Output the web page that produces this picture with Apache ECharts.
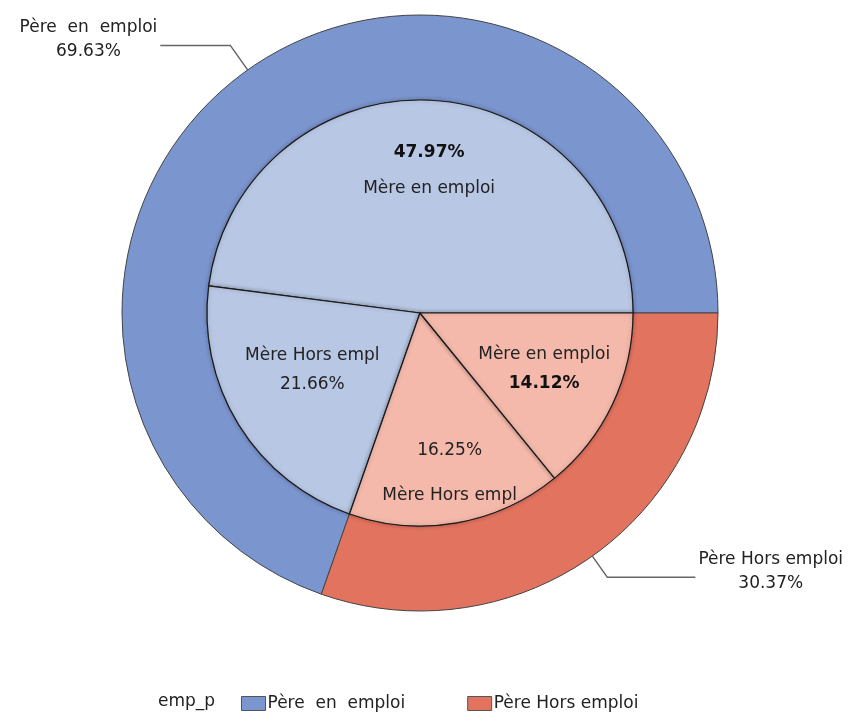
<!DOCTYPE html>
<html>
<head>
<meta charset="utf-8">
<script src="https://cdn.jsdelivr.net/npm/echarts@6/dist/echarts.min.js"></script>
<style>
html,body{margin:0;padding:0;background:#fff;}
#chart{width:854px;height:725px;}
</style>
</head>
<body>
<div id="chart"></div>
<script>
// ---- data ----
var legendTitle = 'emp_p';
var outerNames = ['Père  en  emploi', 'Père Hors emploi'];
var outerValues = [69.63, 30.37];
var innerNames = ['Mère en emploi', 'Mère Hors empl', 'Mère Hors empl', 'Mère en emploi'];
var innerValues = [47.97, 21.66, 16.25, 14.12];

// ---- styles ----
var outerColors = ['#7b95cf', '#e2735f'];
var innerColors = ['#b8c7e4', '#b8c7e4', '#f4b9ab', '#f4b9ab'];
var FONT = 'DejaVu Sans';
var FS = 17;
var innerLabelTpl = [
  function (n, p) { return '{b|' + p + '}\n{n|' + n + '}'; },
  function (n, p) { return '{n|' + n + '}\n{n|' + p + '}'; },
  function (n, p) { return '{n|' + p + '}\n{g|}\n{n|' + n + '}'; },
  function (n, p) { return '{n|' + n + '}\n{b|' + p + '}'; }
];
var innerLabelStyle = [
  { lineHeight: 36, padding: [0, 0, 0, 0] },
  { lineHeight: 29, padding: [0, 0, 36, 28] },
  { lineHeight: 22, padding: [38, 0, 0, 10] },
  { lineHeight: 29, padding: [0, 10, 10, 0] }
];
var outerLabelLines = [
  { length: 30, length2: 70 },
  { length: 26, length2: 88 }
];

function pct(v) { return v.toFixed(2) + '%'; }

var center = [420, 313];

var outerData = outerNames.map(function (n, i) {
  return {
    name: n,
    value: outerValues[i],
    itemStyle: { color: outerColors[i] },
    labelLine: outerLabelLines[i]
  };
});
var innerData = innerNames.map(function (n, i) {
  return { name: n, value: innerValues[i], itemStyle: { color: innerColors[i] } };
});
var labelData = innerNames.map(function (n, i) {
  var st = innerLabelStyle[i];
  return {
    name: n,
    value: innerValues[i],
    label: {
      formatter: innerLabelTpl[i](n, pct(innerValues[i])),
      padding: st.padding,
      rich: {
        n: { fontFamily: FONT, fontSize: FS, color: '#222', align: 'center', lineHeight: st.lineHeight },
        b: { fontFamily: FONT, fontSize: FS, fontWeight: 'bold', color: '#111', align: 'center', lineHeight: st.lineHeight },
        g: { fontSize: 10, lineHeight: 23 }
      }
    }
  };
});

var chart = echarts.init(document.getElementById('chart'), null, { renderer: 'canvas' });
chart.setOption({
  animation: false,
  backgroundColor: '#ffffff',
  title: {
    text: legendTitle,
    left: 153,
    top: 688,
    textStyle: { fontFamily: FONT, fontSize: FS, fontWeight: 'normal', color: '#222' }
  },
  legend: {
    data: outerNames,
    left: 236,
    top: 690,
    itemWidth: 24,
    itemHeight: 14,
    itemGap: 62,
    icon: 'rect',
    itemStyle: { borderColor: '#555', borderWidth: 1 },
    textStyle: { fontFamily: FONT, fontSize: FS, color: '#222', padding: [0, 0, 0, -3] }
  },
  series: [
    {
      type: 'pie',
      name: 'outer',
      center: center,
      radius: [213, 298],
      startAngle: 0,
      clockwise: false,
      avoidLabelOverlap: false,
      itemStyle: { borderColor: '#444', borderWidth: 1 },
      label: {
        show: true,
        position: 'outside',
        formatter: function (p) { return '{n|' + p.name + '}\n{n|' + pct(p.value) + '}'; },
        rich: {
          n: { fontFamily: FONT, fontSize: FS, color: '#222', align: 'center', lineHeight: 24 }
        },
        padding: [0, 0, 12, 0],
        distanceToLabelLine: 3
      },
      labelLine: { show: true, lineStyle: { color: '#666', width: 1.5 } },
      emphasis: { disabled: true },
      data: outerData
    },
    {
      type: 'pie',
      name: 'inner',
      center: center,
      radius: [0, 213],
      startAngle: 0,
      clockwise: false,
      itemStyle: { borderColor: '#1a1a1a', borderWidth: 1.2,
        shadowColor: 'rgba(0,0,0,0.25)', shadowBlur: 4 },
      label: { show: false },
      labelLine: { show: false },
      emphasis: { disabled: true },
      data: innerData
    },
    {
      type: 'pie',
      name: 'labels',
      center: center,
      radius: [0, 280],
      startAngle: 0,
      clockwise: false,
      silent: true,
      itemStyle: { color: 'transparent', borderWidth: 0 },
      label: { show: true, position: 'inside' },
      labelLine: { show: false },
      emphasis: { disabled: true },
      tooltip: { show: false },
      data: labelData
    }
  ]
});
</script>
</body>
</html>
